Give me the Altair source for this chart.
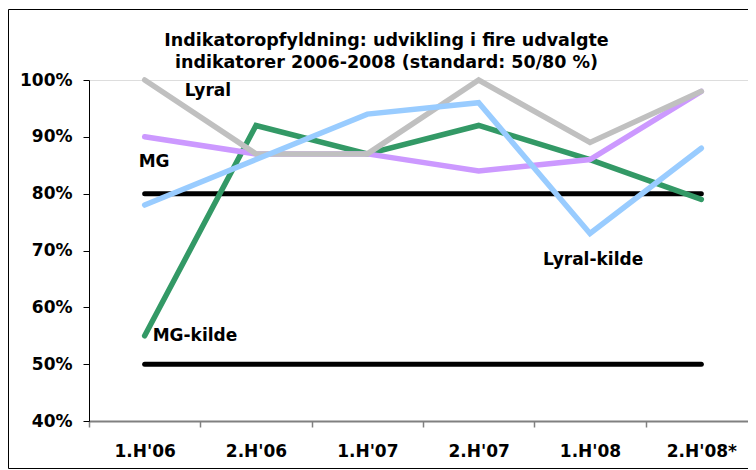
import altair as alt
import pandas as pd

periods = ["1.H'06", "2.H'06", "1.H'07", "2.H'07", "1.H'08", "2.H'08*"]
lyral = [100, 87, 87, 100, 89, 98]
mg = [90, 87, 87, 84, 86, 98]
mg_kilde = [55, 92, 87, 92, 86, 79]
lyral_kilde = [78, 86, 94, 96, 73, 88]
standard_low = [50, 50, 50, 50, 50, 50]
standard_high = [80, 80, 80, 80, 80, 80]
y_ticks = [40, 50, 60, 70, 80, 90, 100]

ann_text = ["Lyral", "MG", "MG-kilde", "Lyral-kilde"]
ann_period = ["1.H'06", "1.H'06", "1.H'06", "1.H'08"]
ann_value = [98.0, 85.6, 55.0, 68.3]

FONT = "DejaVu Sans"

series = [
    ("std50", standard_low, "#000000"),
    ("std80", standard_high, "#000000"),
    ("MG-kilde", mg_kilde, "#339966"),
    ("MG", mg, "#CC99FF"),
    ("Lyral", lyral, "#C0C0C0"),
    ("Lyral-kilde", lyral_kilde, "#99CCFF"),
]

xenc = alt.X(
    "period:N",
    sort=periods,
    bandPosition=0.5,
    scale=alt.Scale(type="band", domain=periods, paddingInner=0, paddingOuter=0, range=[0, 668]),
    axis=alt.Axis(
        title=None,
        labelAngle=0,
        labelFont=FONT,
        labelFontSize=17,
        labelFontWeight="bold",
        labelColor="#000000",
        labelPadding=16,
        domainColor="#808080",
        domainWidth=2,
        tickColor="#808080",
        tickWidth=1.5,
        tickSize=6,
        tickBand="extent",
        grid=False,
    ),
)
yenc = alt.Y(
    "value:Q",
    scale=alt.Scale(domain=[40, 100], nice=False, zero=False),
    axis=alt.Axis(
        title=None,
        values=y_ticks,
        labelExpr="datum.value + '%'",
        labelFont=FONT,
        labelFontSize=17,
        labelFontWeight="bold",
        labelColor="#000000",
        labelPadding=11,
        domainColor="#000000",
        domainWidth=1,
        tickColor="#000000",
        tickWidth=1,
        tickSize=6,
        grid=False,
    ),
)

layers = []
for name, vals, color in series:
    df = pd.DataFrame({"period": periods, "value": vals})
    layers.append(
        alt.Chart(df)
        .mark_line(color=color, strokeWidth=5.5 if color != "#000000" else 5, strokeCap="round")
        .encode(x=xenc, y=yenc)
    )

dx_list = [40, -6, 8, -47]
for t, p, v, dx in zip(ann_text, ann_period, ann_value, dx_list):
    df = pd.DataFrame({"period": [p], "value": [v], "label": [t]})
    layers.append(
        alt.Chart(df)
        .mark_text(font=FONT, fontSize=17, fontWeight="bold", color="#000000",
                   align="left", baseline="middle", dx=dx)
        .encode(x=xenc, y=yenc, text="label:N")
    )

one = pd.DataFrame({"a": [0]})
border_top = alt.Chart(one).mark_rule(color="#000000", strokeWidth=1).encode(
    x=alt.value(-80.5), x2=alt.value(659), y=alt.value(-70.5))
border_bottom = alt.Chart(one).mark_rule(color="#000000", strokeWidth=1).encode(
    x=alt.value(-80.5), x2=alt.value(659), y=alt.value(388.5))
border_left = alt.Chart(one).mark_rule(color="#000000", strokeWidth=1).encode(
    x=alt.value(-80.5), y=alt.value(-70.5), y2=alt.value(388.5))

chart = (
    alt.layer(border_top, border_bottom, border_left, *layers)
    .properties(
        width=659,
        height=341,
        title=alt.TitleParams(
            text=["Indikatoropfyldning: udvikling i fire udvalgte",
                  "indikatorer 2006-2008 (standard: 50/80 %)"],
            font=FONT,
            fontSize=17.5,
            fontWeight="bold",
            color="#000000",
            anchor="middle",
            frame="group",
            dx=-32,
            offset=-62,
            lineHeight=22,
        ),
        autosize=alt.AutoSizeParams(type="none"),
        padding={"left": 81, "top": 72, "right": 0, "bottom": 49},
    )
    .configure_view(stroke="transparent")
    .configure(background="#ffffff")
)

chart.save("out.html", embed_options={"renderer": "svg", "actions": False})
